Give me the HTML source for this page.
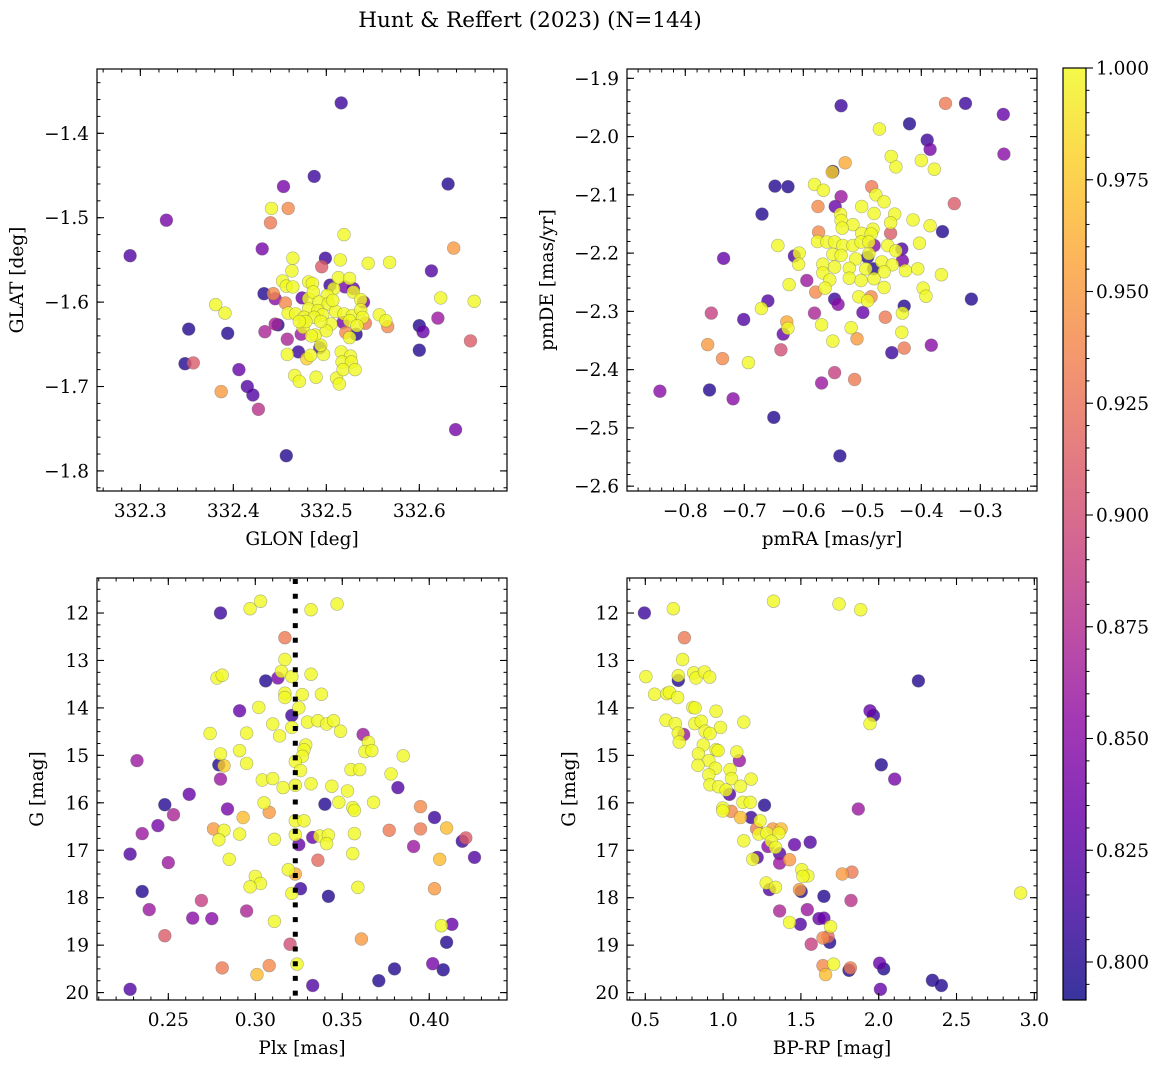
<!DOCTYPE html>
<html><head><meta charset="utf-8"><style>
body{margin:0;background:#fff}
svg text{font-family:"DejaVu Serif","Liberation Serif",serif;fill:#000}
</style></head><body>
<svg id="fig" width="1160" height="1068" xmlns="http://www.w3.org/2000/svg">
<text x="530" y="27" font-size="21.5" text-anchor="middle">Hunt &amp; Reffert (2023) (N=144)</text>
</svg>
<script>
// Panel 1: GLON / GLAT
const p1_glon=[332.516,332.487,332.454,332.631,332.328,332.289,332.441,332.459,332.440,332.519,332.431,332.637,332.464,332.499,332.515,332.545,332.568,332.495,332.613,332.463,332.623,332.659,332.433,332.443,332.445,332.456,332.381,332.391,332.352,332.394,332.620,332.600,332.604,332.600,332.566,332.655,332.434,332.445,332.448,332.458,332.470,332.348,332.357,332.406,332.415,332.421,332.387,332.427,332.457,332.639,332.458,332.479,332.483,332.497,332.466,332.471,332.489,332.511,332.514,332.516,332.526,332.517,332.527,332.518,332.531,332.494,332.488,332.473,332.475,332.459,332.467,332.474,332.481,332.453,332.457,332.464,332.481,332.485,332.486,332.504,332.508,332.513,332.525,332.520,332.529,332.529,332.537,332.540,332.501,332.492,332.502,332.481,332.491,332.496,332.510,332.519,332.528,332.537,332.539,332.476,332.487,332.478,332.505,332.518,332.525,332.533,332.542,332.500,332.521,332.532,332.525,332.493,332.557,332.564,332.484,332.507,332.494,332.471];
const p1_glat=[-1.364,-1.451,-1.463,-1.460,-1.503,-1.545,-1.489,-1.489,-1.506,-1.520,-1.537,-1.536,-1.548,-1.548,-1.550,-1.554,-1.553,-1.558,-1.563,-1.563,-1.595,-1.599,-1.590,-1.590,-1.596,-1.601,-1.603,-1.613,-1.632,-1.637,-1.619,-1.628,-1.635,-1.657,-1.629,-1.646,-1.635,-1.626,-1.627,-1.644,-1.659,-1.673,-1.672,-1.680,-1.700,-1.710,-1.706,-1.727,-1.782,-1.751,-1.662,-1.667,-1.663,-1.662,-1.687,-1.694,-1.689,-1.690,-1.697,-1.659,-1.664,-1.671,-1.671,-1.680,-1.680,-1.651,-1.639,-1.638,-1.630,-1.613,-1.614,-1.595,-1.596,-1.575,-1.581,-1.582,-1.576,-1.578,-1.588,-1.580,-1.584,-1.571,-1.572,-1.582,-1.584,-1.588,-1.597,-1.600,-1.592,-1.600,-1.602,-1.608,-1.610,-1.615,-1.611,-1.614,-1.616,-1.609,-1.618,-1.618,-1.618,-1.623,-1.626,-1.624,-1.622,-1.628,-1.625,-1.634,-1.636,-1.638,-1.642,-1.654,-1.615,-1.622,-1.640,-1.598,-1.623,-1.623];
const p1_prob=[0.81,0.81,0.84,0.80,0.84,0.82,1.00,0.94,0.93,1.00,0.84,0.95,1.00,0.81,1.00,1.00,1.00,0.91,0.82,1.00,1.00,1.00,0.80,0.94,0.85,0.94,1.00,1.00,0.80,0.80,0.86,0.80,0.83,0.80,0.94,0.91,0.87,0.87,0.80,0.87,0.81,0.80,0.91,0.83,0.82,0.82,0.95,0.88,0.80,0.84,1.00,0.98,1.00,1.00,1.00,1.00,1.00,1.00,1.00,1.00,1.00,1.00,1.00,1.00,1.00,1.00,1.00,0.86,1.00,1.00,1.00,0.83,1.00,1.00,1.00,1.00,1.00,1.00,1.00,0.81,1.00,1.00,1.00,0.84,0.83,1.00,1.00,0.84,1.00,1.00,1.00,1.00,1.00,1.00,1.00,1.00,1.00,1.00,1.00,1.00,1.00,1.00,1.00,0.84,1.00,1.00,0.93,1.00,0.94,0.80,1.00,0.81,1.00,1.00,1.00,1.00,1.00,1.00];
// Panel 2: pmRA / pmDE
const p2_pmra=[-0.536,-0.359,-0.325,-0.261,-0.420,-0.471,-0.390,-0.385,-0.260,-0.451,-0.443,-0.400,-0.378,-0.529,-0.550,-0.551,-0.648,-0.626,-0.581,-0.566,-0.484,-0.477,-0.536,-0.575,-0.546,-0.463,-0.344,-0.501,-0.670,-0.537,-0.480,-0.445,-0.536,-0.516,-0.534,-0.414,-0.385,-0.452,-0.364,-0.482,-0.452,-0.574,-0.501,-0.485,-0.643,-0.576,-0.560,-0.547,-0.533,-0.516,-0.502,-0.489,-0.480,-0.457,-0.433,-0.443,-0.403,-0.735,-0.615,-0.607,-0.550,-0.536,-0.491,-0.489,-0.511,-0.432,-0.608,-0.567,-0.547,-0.522,-0.467,-0.449,-0.481,-0.567,-0.494,-0.463,-0.427,-0.406,-0.366,-0.555,-0.522,-0.502,-0.480,-0.594,-0.624,-0.563,-0.579,-0.463,-0.397,-0.392,-0.506,-0.485,-0.491,-0.547,-0.541,-0.315,-0.660,-0.671,-0.756,-0.429,-0.432,-0.499,-0.581,-0.701,-0.628,-0.626,-0.634,-0.569,-0.519,-0.461,-0.433,-0.762,-0.550,-0.509,-0.638,-0.450,-0.429,-0.383,-0.737,-0.693,-0.547,-0.513,-0.569,-0.843,-0.759,-0.719,-0.650,-0.538];
const p2_pmde=[-1.947,-1.943,-1.943,-1.962,-1.978,-1.987,-2.006,-2.022,-2.030,-2.034,-2.052,-2.041,-2.056,-2.045,-2.060,-2.061,-2.085,-2.086,-2.082,-2.092,-2.086,-2.100,-2.103,-2.120,-2.120,-2.112,-2.115,-2.120,-2.133,-2.133,-2.132,-2.133,-2.144,-2.151,-2.157,-2.143,-2.153,-2.148,-2.163,-2.159,-2.166,-2.164,-2.166,-2.167,-2.187,-2.180,-2.181,-2.181,-2.187,-2.187,-2.181,-2.181,-2.187,-2.187,-2.193,-2.196,-2.183,-2.209,-2.205,-2.200,-2.202,-2.204,-2.207,-2.201,-2.210,-2.213,-2.219,-2.219,-2.224,-2.226,-2.215,-2.220,-2.227,-2.234,-2.227,-2.232,-2.230,-2.227,-2.237,-2.246,-2.243,-2.247,-2.244,-2.247,-2.254,-2.260,-2.267,-2.259,-2.260,-2.274,-2.275,-2.275,-2.282,-2.279,-2.288,-2.279,-2.282,-2.295,-2.303,-2.291,-2.303,-2.302,-2.303,-2.314,-2.318,-2.329,-2.339,-2.323,-2.328,-2.310,-2.336,-2.357,-2.351,-2.347,-2.366,-2.371,-2.363,-2.358,-2.381,-2.388,-2.405,-2.417,-2.423,-2.437,-2.435,-2.450,-2.482,-2.548];
const p2_prob=[0.81,0.93,0.81,0.83,0.80,1.00,0.81,0.84,0.85,1.00,1.00,1.00,1.00,0.96,0.80,0.98,0.80,0.80,1.00,1.00,0.93,1.00,0.86,0.94,0.83,1.00,0.91,1.00,0.80,1.00,1.00,1.00,1.00,1.00,1.00,1.00,1.00,1.00,0.80,1.00,0.91,0.94,1.00,1.00,1.00,1.00,1.00,1.00,1.00,1.00,1.00,1.00,0.85,1.00,0.82,1.00,1.00,0.83,0.82,1.00,1.00,1.00,0.80,1.00,1.00,0.84,1.00,1.00,1.00,1.00,1.00,1.00,0.80,1.00,1.00,1.00,1.00,1.00,1.00,1.00,1.00,1.00,1.00,0.86,1.00,1.00,0.94,1.00,1.00,1.00,1.00,0.94,1.00,0.81,0.85,0.80,0.82,1.00,0.89,0.80,1.00,0.83,0.87,0.82,0.96,1.00,0.83,1.00,1.00,0.93,1.00,0.95,1.00,0.95,0.90,0.81,0.93,0.85,0.94,1.00,0.89,0.93,0.86,0.85,0.80,0.85,0.80,0.80];
// Panel 3: Plx / G
const p3_plx=[0.297,0.303,0.332,0.347,0.280,0.317,0.317,0.315,0.278,0.281,0.306,0.313,0.321,0.332,0.317,0.327,0.338,0.317,0.291,0.302,0.321,0.325,0.321,0.310,0.330,0.336,0.341,0.345,0.349,0.274,0.295,0.314,0.362,0.365,0.329,0.328,0.327,0.363,0.367,0.385,0.232,0.280,0.291,0.279,0.282,0.295,0.323,0.326,0.355,0.360,0.378,0.280,0.304,0.310,0.316,0.323,0.332,0.344,0.353,0.382,0.262,0.248,0.253,0.284,0.305,0.308,0.340,0.348,0.356,0.357,0.368,0.395,0.403,0.293,0.323,0.328,0.244,0.235,0.276,0.282,0.279,0.291,0.311,0.323,0.325,0.333,0.337,0.342,0.341,0.357,0.377,0.395,0.410,0.419,0.421,0.391,0.426,0.228,0.250,0.285,0.319,0.323,0.336,0.356,0.406,0.300,0.303,0.297,0.326,0.321,0.342,0.359,0.403,0.235,0.269,0.239,0.264,0.275,0.295,0.311,0.407,0.413,0.248,0.320,0.361,0.410,0.281,0.301,0.308,0.324,0.402,0.380,0.408,0.371,0.333,0.228];
const p3_g=[11.91,11.75,11.93,11.81,12.00,12.52,12.98,13.23,13.37,13.31,13.43,13.37,13.34,13.29,13.69,13.72,13.71,13.78,14.06,13.99,14.16,14.00,14.41,14.34,14.30,14.27,14.34,14.27,14.49,14.54,14.53,14.59,14.56,14.72,14.78,14.88,15.02,14.92,14.90,15.01,15.11,14.97,14.90,15.20,15.22,15.17,15.13,15.32,15.30,15.30,15.39,15.50,15.52,15.49,15.68,15.63,15.60,15.65,15.75,15.68,15.82,16.04,16.25,16.13,16.00,16.20,16.03,15.99,16.10,16.16,15.99,16.08,16.31,16.31,16.38,16.38,16.48,16.65,16.55,16.58,16.78,16.66,16.77,16.67,16.88,16.73,16.70,16.68,16.86,16.65,16.58,16.55,16.53,16.81,16.74,16.92,17.15,17.08,17.26,17.19,17.41,17.50,17.21,17.07,17.19,17.55,17.70,17.77,17.81,17.91,17.97,17.78,17.81,17.87,18.06,18.25,18.43,18.44,18.28,18.50,18.59,18.56,18.80,18.98,18.87,18.94,19.48,19.62,19.43,19.40,19.39,19.50,19.52,19.75,19.85,19.93];
const p3_prob=[1.00,1.00,1.00,1.00,0.81,0.93,1.00,1.00,1.00,1.00,0.80,0.84,1.00,1.00,1.00,1.00,1.00,1.00,0.83,1.00,0.81,1.00,1.00,1.00,1.00,1.00,1.00,1.00,1.00,1.00,1.00,1.00,0.86,1.00,1.00,1.00,1.00,1.00,1.00,1.00,0.86,1.00,1.00,0.80,0.98,1.00,1.00,1.00,1.00,1.00,1.00,0.86,1.00,1.00,1.00,1.00,1.00,1.00,1.00,0.82,0.83,0.80,0.87,0.84,1.00,0.95,0.80,1.00,1.00,1.00,1.00,0.94,0.81,0.97,1.00,1.00,0.84,0.86,0.95,1.00,1.00,1.00,1.00,1.00,0.83,0.83,1.00,1.00,1.00,1.00,0.93,0.93,0.97,0.81,0.91,0.86,0.82,0.82,0.86,1.00,1.00,0.96,0.92,1.00,0.97,1.00,1.00,1.00,0.81,1.00,0.80,1.00,0.95,0.80,0.89,0.86,0.85,0.85,0.87,1.00,1.00,0.83,0.91,0.90,0.95,0.80,0.93,0.97,0.94,1.00,0.84,0.80,0.80,0.80,0.82,0.82];
// Panel 4: BP-RP / G
const p4_bprp=[0.494,0.680,1.324,1.745,1.884,0.751,0.740,0.504,0.712,0.712,0.811,0.826,0.880,0.914,2.255,0.560,0.639,0.655,0.708,0.805,0.820,0.955,1.944,1.966,1.944,0.633,0.693,0.818,0.859,0.983,1.133,0.747,0.712,0.718,0.884,0.916,0.873,0.955,0.968,0.841,1.088,1.105,0.908,2.017,0.839,0.951,1.045,0.908,1.180,2.103,1.054,0.916,0.972,1.112,1.019,1.041,1.127,1.174,1.266,1.869,0.998,0.998,1.052,1.112,1.180,1.238,1.215,1.320,1.373,1.230,1.281,1.358,1.310,1.288,1.337,1.459,1.560,1.133,1.191,1.219,1.363,1.363,1.427,1.506,1.545,1.513,1.766,1.828,1.277,1.298,1.337,1.491,1.502,1.648,1.822,2.912,1.363,1.541,1.427,1.496,1.616,1.648,1.691,1.566,1.642,1.674,1.685,1.642,1.710,1.659,1.809,1.818,2.006,2.032,2.345,2.403,2.011];
const p4_g=[12.00,11.91,11.75,11.81,11.93,12.52,12.98,13.34,13.42,13.32,13.26,13.37,13.24,13.35,13.43,13.71,13.70,13.67,13.78,13.99,14.00,14.07,14.06,14.16,14.33,14.26,14.33,14.33,14.28,14.41,14.30,14.56,14.53,14.72,14.49,14.54,14.78,14.88,14.90,14.97,14.93,15.11,15.11,15.20,15.21,15.27,15.30,15.41,15.50,15.50,15.49,15.62,15.66,15.65,15.73,15.82,15.99,15.99,16.05,16.13,16.11,16.17,16.18,16.31,16.31,16.38,16.55,16.55,16.55,16.66,16.64,16.64,16.81,16.92,16.94,16.88,16.83,16.80,17.19,17.15,17.07,17.27,17.20,17.41,17.54,17.55,17.50,17.46,17.69,17.83,17.78,17.83,17.87,17.97,18.06,17.90,18.28,18.25,18.52,18.56,18.44,18.43,18.61,18.98,18.85,18.82,18.94,19.43,19.40,19.62,19.53,19.48,19.38,19.50,19.74,19.85,19.93];
const p4_prob=[0.81,1.00,1.00,1.00,1.00,0.93,1.00,1.00,0.80,1.00,1.00,1.00,1.00,1.00,0.80,1.00,1.00,1.00,1.00,1.00,1.00,1.00,0.83,0.81,1.00,1.00,1.00,1.00,1.00,1.00,1.00,0.86,1.00,1.00,1.00,1.00,1.00,1.00,1.00,1.00,1.00,0.86,1.00,0.80,1.00,1.00,1.00,1.00,1.00,0.84,1.00,1.00,1.00,1.00,1.00,0.82,1.00,1.00,0.80,0.86,1.00,1.00,0.94,0.97,0.81,1.00,0.93,0.95,0.97,1.00,1.00,1.00,1.00,0.85,1.00,0.83,0.82,1.00,1.00,0.82,0.82,0.86,0.95,1.00,1.00,1.00,0.95,0.93,1.00,0.82,1.00,0.95,0.80,0.80,0.88,1.00,0.87,0.86,1.00,0.82,0.83,0.83,1.00,0.89,0.94,0.92,0.80,0.94,1.00,0.97,0.80,0.93,0.83,0.80,0.80,0.80,0.83];
// Tick values
const p1_xticks=[332.3,332.4,332.5,332.6];
const p1_yticks=[-1.4,-1.5,-1.6,-1.7,-1.8];
const p2_xticks=[-0.8,-0.7,-0.6,-0.5,-0.4,-0.3];
const p2_yticks=[-1.9,-2.0,-2.1,-2.2,-2.3,-2.4,-2.5,-2.6];
const p3_xticks=[0.25,0.30,0.35,0.40];
const g_ticks=[12,13,14,15,16,17,18,19,20];
const p4_xticks=[0.5,1.0,1.5,2.0,2.5,3.0];
const cb_ticks=[0.800,0.825,0.850,0.875,0.900,0.925,0.950,0.975,1.000];
const plx_line=[0.323];

const NS='http://www.w3.org/2000/svg';
const svg=document.getElementById('fig');
const TF=18.5, LF=18.5;
function mk(tag,attrs,parent){const e=document.createElementNS(NS,tag);for(const k in attrs)e.setAttribute(k,attrs[k]);(parent||svg).appendChild(e);return e;}
const VMIN=0.7915,VMAX=1.0;
const plasma=[[13,8,135],[65,4,157],[106,0,168],[143,13,164],[177,42,144],[204,71,120],[225,100,98],[242,132,75],[252,166,54],[252,206,37],[240,249,33]];
function cmap(v){let t=(v-VMIN)/(VMAX-VMIN);t=Math.max(0,Math.min(1,t))*10;const i=Math.min(9,Math.floor(t)),f=t-i;const a=plasma[i],b=plasma[i+1];return 'rgb('+a.map((c,k)=>Math.round(c+(b[k]-c)*f)).join(',')+')';}
function fmt(v,d){return v.toFixed(d).replace('-','\u2212');}

function panel(name,box,xr,yr,xt,yt,xminor,yminor,xd,yd,xlabel,ylabel,ylabx,xs,ys,ps){
  const [L,T,R,B]=box;
  const X=v=>L+(v-xr[0])/(xr[1]-xr[0])*(R-L);
  const Y=v=>B-(v-yr[0])/(yr[1]-yr[0])*(B-T);
  const g=mk('g',{});
  
  
  const idx=xs.map((_,i)=>i).sort((a,b)=>ps[a]-ps[b]);
  for(const i of idx){
    const c=mk('circle',{cx:X(xs[i]).toFixed(1),cy:Y(ys[i]).toFixed(1),r:6.4,fill:cmap(ps[i]),'fill-opacity':0.8,stroke:'rgba(90,90,90,0.45)','stroke-width':0.6},g);
    
    
  }
  const lo=Math.min(xr[0],xr[1]),hi=Math.max(xr[0],xr[1]);
  for(let v=Math.ceil(lo/xminor-1e-6)*xminor;v<=hi;v+=xminor){const x=X(v);mk('line',{x1:x,x2:x,y1:B,y2:B-3.5,stroke:'#000','stroke-width':1},g);mk('line',{x1:x,x2:x,y1:T,y2:T+3.5,stroke:'#000','stroke-width':1},g);}
  const ylo=Math.min(yr[0],yr[1]),yhi=Math.max(yr[0],yr[1]);
  for(let v=Math.ceil(ylo/yminor-1e-6)*yminor;v<=yhi;v+=yminor){const y=Y(v);mk('line',{x1:L,x2:L+3.5,y1:y,y2:y,stroke:'#000','stroke-width':1},g);mk('line',{x1:R,x2:R-3.5,y1:y,y2:y,stroke:'#000','stroke-width':1},g);}
  for(const v of xt){const x=X(v);mk('line',{x1:x,x2:x,y1:B,y2:B-7,stroke:'#000','stroke-width':1.1},g);mk('line',{x1:x,x2:x,y1:T,y2:T+7,stroke:'#000','stroke-width':1.1},g);
    const t=mk('text',{x:x,y:B+26,'font-size':TF,'text-anchor':'middle'},g);t.textContent=fmt(v,xd);
    
    }
  for(const v of yt){const y=Y(v);mk('line',{x1:L,x2:L+7,y1:y,y2:y,stroke:'#000','stroke-width':1.1},g);mk('line',{x1:R,x2:R-7,y1:y,y2:y,stroke:'#000','stroke-width':1.1},g);
    const t=mk('text',{x:L-8,y:y+6.5,'font-size':TF,'text-anchor':'end'},g);t.textContent=fmt(v,yd);
    
    }
  mk('rect',{x:L,y:T,width:R-L,height:B-T,fill:'none',stroke:'#000','stroke-width':1.2},g);
  const xl=mk('text',{x:(L+R)/2,y:B+54,'font-size':LF,'text-anchor':'middle'},g);xl.textContent=xlabel;
  
  
  const cy=(T+B)/2;
  const yl=mk('text',{x:ylabx,y:cy,'font-size':LF,'text-anchor':'middle',transform:'rotate(-90 '+ylabx+' '+cy+')'},g);yl.textContent=ylabel;
  
  
  return {X,Y,g};
}
panel('glon-glat',[97,69,507,491],[332.2534,332.6943],[-1.8238,-1.3238],p1_xticks,p1_yticks,0.02,0.02,1,1,'GLON [deg]','GLAT [deg]',23,p1_glon,p1_glat,p1_prob);
panel('pm',[627,69,1037,491],[-0.8988,-0.2039],[-2.6083,-1.884],p2_xticks,p2_yticks,0.02,0.02,1,1,'pmRA [mas/yr]','pmDE [mas/yr]',553,p2_pmra,p2_pmde,p2_prob);
const p3=panel('plx-g',[97,578,507,1000],[0.2090,0.4447],[20.156,11.262],p3_xticks,g_ticks,0.01,0.25,2,0,'Plx [mas]','G [mag]',43,p3_plx,p3_g,p3_prob);
panel('cmd',[627,578,1037,1000],[0.3824,3.0173],[20.156,11.262],p4_xticks,g_ticks,0.1,0.25,1,0,'BP-RP [mag]','G [mag]',575,p4_bprp,p4_g,p4_prob);
for(const v of plx_line){const x=p3.X(v);
  const l=mk('line',{x1:x,x2:x,y1:579,y2:1000,stroke:'#000','stroke-width':5,'stroke-dasharray':'5 9.7'});
  
  }
// colorbar
const cbL=1063,cbR=1086,cbT=68,cbB=1000;
const defs=mk('defs',{});const gr=mk('linearGradient',{id:'cbg',x1:0,y1:1,x2:0,y2:0},defs);
for(let i=0;i<=20;i++){const v=VMIN+(VMAX-VMIN)*i/20;mk('stop',{offset:(i/20),'stop-color':cmap(v),'stop-opacity':0.82},gr);}
const cb=mk('rect',{x:cbL,y:cbT,width:cbR-cbL,height:cbB-cbT,fill:'url(#cbg)',stroke:'#000','stroke-width':1.2});


const CY=v=>cbB-(v-VMIN)/(VMAX-VMIN)*(cbB-cbT);
for(let v=0.795;v<=1.0001;v+=0.005){const y=CY(v);mk('line',{x1:cbR,x2:cbR+3.5,y1:y,y2:y,stroke:'#000','stroke-width':1});}
for(const v of cb_ticks){const y=CY(v);mk('line',{x1:cbR,x2:cbR+7,y1:y,y2:y,stroke:'#000','stroke-width':1.1});
  const t=mk('text',{x:cbR+10,y:y+6.5,'font-size':TF});t.textContent=v.toFixed(3);
  
  }
</script>
</body></html>
